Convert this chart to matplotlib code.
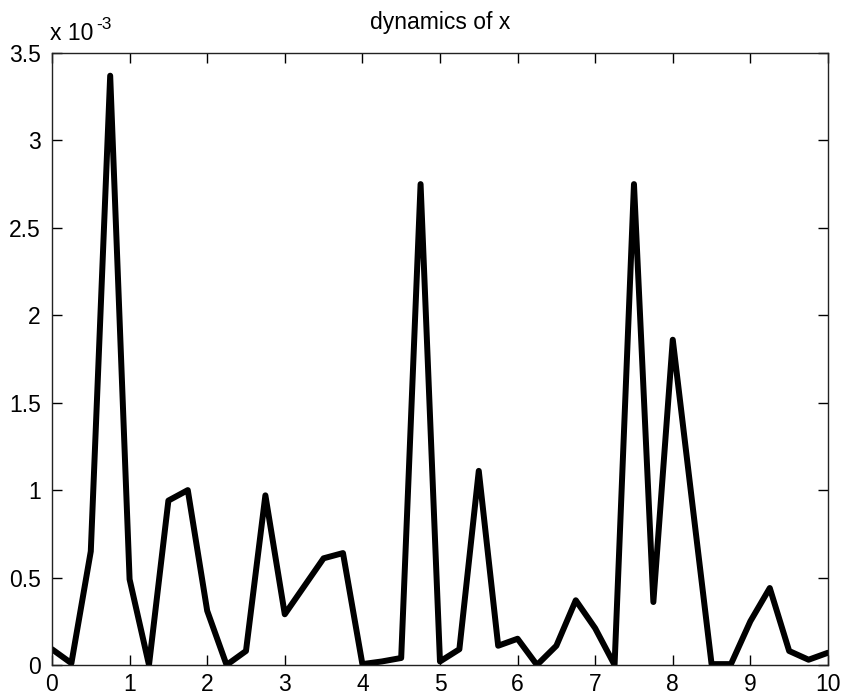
import numpy as np
import matplotlib
matplotlib.use("Agg")
import matplotlib.pyplot as plt
from matplotlib.ticker import FuncFormatter

# time grid and sampled state (in units of 1e-3)
t = np.arange(0, 10.01, 0.25)
x_scaled = [0.09, 0.01, 0.65, 3.37, 0.49, 0.0, 0.94, 1.0, 0.31, 0.0,
            0.08, 0.97, 0.29, 0.45, 0.61, 0.64, 0.005, 0.02, 0.04, 2.75,
            0.02, 0.09, 1.11, 0.11, 0.15, 0.0, 0.11, 0.37, 0.21, 0.0,
            2.75, 0.36, 1.86, 0.93, 0.005, 0.005, 0.25, 0.44, 0.08, 0.03,
            0.07]
x_vals = np.array(x_scaled) * 1e-3

x_ticks = np.arange(0, 11, 1)
y_ticks = np.arange(0, 3.51, 0.5) * 1e-3

plt.rcParams['font.family'] = ['Liberation Sans', 'DejaVu Sans']
fs = 16.5

fig = plt.figure(figsize=(8.44, 6.95), dpi=100)
ax = fig.add_axes([0.0616, 0.0432, 0.9194, 0.8806])

ax.plot(t, x_vals, color='black', linewidth=4.3,
        solid_joinstyle='round', solid_capstyle='round')

ax.set_xlim(0, 10)
ax.set_ylim(0, 3.5e-3)
ax.set_xticks(x_ticks)
ax.set_yticks(y_ticks)
ax.yaxis.set_major_formatter(FuncFormatter(lambda v, p: "%g" % round(v * 1e3, 3)))
ax.tick_params(direction='in', length=7, width=1, top=True, right=True,
               labelsize=fs, pad=6)
ax.tick_params(axis='y', pad=8)
for s in ax.spines.values():
    s.set_linewidth(1)
    s.set_color('#222222')

ax.set_title("dynamics of x", fontsize=fs, pad=17)

# exponent label above the y axis
fig.text(50 / 844, 1 - 40 / 695, "x 10", fontsize=fs, ha='left', va='baseline')
fig.text(96 / 844, 1 - 29 / 695, "-3", fontsize=fs * 0.75, ha='left', va='baseline')

fig.savefig("out.png", dpi=100, facecolor='white')
